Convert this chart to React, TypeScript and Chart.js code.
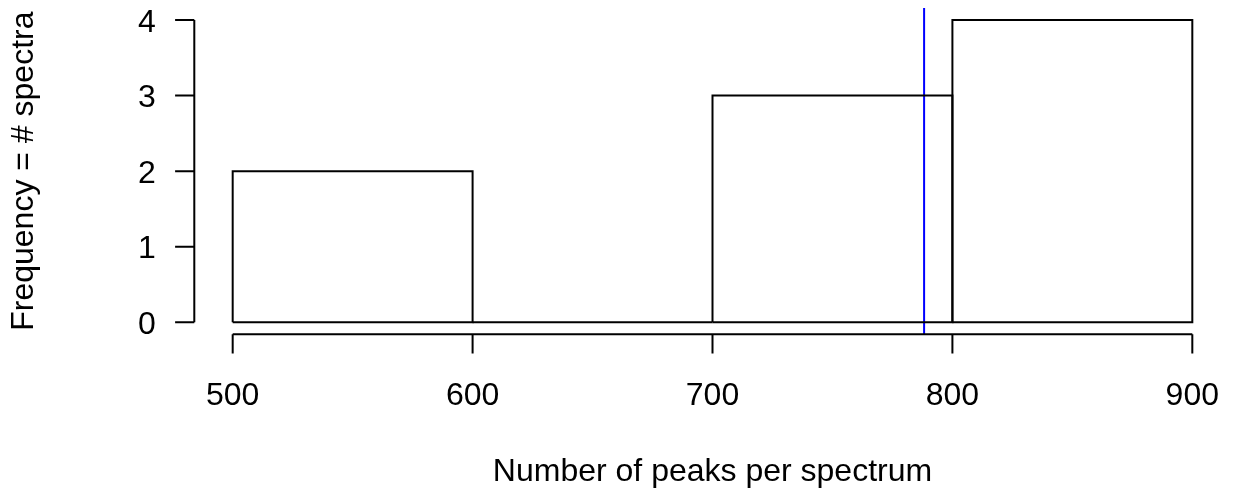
import React, { useEffect, useRef } from "react";
import { Chart, registerables } from "chart.js";

Chart.register(...registerables);

// ---- data ----
const binEdges = [500, 600, 700, 800, 900];
const binCounts = [2, 0, 3, 4];
const meanPeaks = 788.2;
const xTicks = [500, 600, 700, 800, 900];
const yTicks = [0, 1, 2, 3, 4];
const xTitle = "Number of peaks per spectrum";
const yTitle = "Frequency = # spectra";

// ---- style ----
const W = 1235;
const H = 489;
const FONT_SIZE = 32;
const FONT = `${FONT_SIZE}px "Liberation Sans", Arial, Helvetica, sans-serif`;
const LW = 2;
const TICK = 19.2;

const xMin = xTicks[0] - 0.04 * (xTicks[xTicks.length - 1] - xTicks[0]);
const xMax = xTicks[xTicks.length - 1] + 0.04 * (xTicks[xTicks.length - 1] - xTicks[0]);
const yMin = yTicks[0] - 0.04 * (yTicks[yTicks.length - 1] - yTicks[0]);
const yMax = yTicks[yTicks.length - 1] + 0.04 * (yTicks[yTicks.length - 1] - yTicks[0]);

const rAxesPlugin = {
  id: "rAxes",
  afterDraw(chart: any) {
    const ctx = chart.ctx as CanvasRenderingContext2D;
    const xs = chart.scales.x;
    const ys = chart.scales.y;
    const area = chart.chartArea;
    ctx.save();
    ctx.strokeStyle = "#000";
    ctx.fillStyle = "#000";
    ctx.lineWidth = LW;
    ctx.lineCap = "butt";

    // x axis
    const xa0 = xs.getPixelForValue(xTicks[0]);
    const xa1 = xs.getPixelForValue(xTicks[xTicks.length - 1]);
    const axY = area.bottom;
    ctx.beginPath();
    ctx.moveTo(xa0, axY);
    ctx.lineTo(xa1, axY);
    xTicks.forEach((t) => {
      const px = xs.getPixelForValue(t);
      ctx.moveTo(px, axY);
      ctx.lineTo(px, axY + TICK);
    });
    ctx.stroke();

    // y axis
    const ya0 = ys.getPixelForValue(yTicks[0]);
    const ya1 = ys.getPixelForValue(yTicks[yTicks.length - 1]);
    const axX = area.left;
    ctx.beginPath();
    ctx.moveTo(axX, ya0);
    ctx.lineTo(axX, ya1);
    yTicks.forEach((t) => {
      const py = ys.getPixelForValue(t);
      ctx.moveTo(axX, py);
      ctx.lineTo(axX - TICK, py);
    });
    ctx.stroke();

    ctx.font = FONT;
    const capHalf = 0.358 * FONT_SIZE;

    // x tick labels
    ctx.textAlign = "center";
    ctx.textBaseline = "alphabetic";
    xTicks.forEach((t) => {
      const px = xs.getPixelForValue(t);
      ctx.fillText(String(t), px, axY + 70.2);
    });

    // y tick labels
    ctx.textAlign = "right";
    yTicks.forEach((t) => {
      const py = ys.getPixelForValue(t);
      ctx.fillText(String(t), axX - 38.4, py + capHalf);
    });

    // x title
    ctx.textAlign = "center";
    ctx.fillText(xTitle, (area.left + area.right) / 2, 481);

    // y title
    ctx.save();
    ctx.translate(33, (area.top + area.bottom) / 2);
    ctx.rotate(-Math.PI / 2);
    ctx.textAlign = "center";
    ctx.fillText(yTitle, 0, 0);
    ctx.restore();

    ctx.restore();
  },
};

export default function App() {
  const ref = useRef<HTMLCanvasElement | null>(null);

  useEffect(() => {
    document.body.style.margin = "0";
    const canvas = ref.current;
    if (!canvas) return;

    const barSets = binCounts.map((c, i) => ({
      label: `bin${i}`,
      data: [
        { x: binEdges[i], y: 0 },
        { x: binEdges[i], y: c },
        { x: binEdges[i + 1], y: c },
        { x: binEdges[i + 1], y: 0 },
        { x: binEdges[i], y: 0 },
      ],
      borderColor: "#000",
      borderWidth: LW,
      pointRadius: 0,
      fill: false,
      tension: 0,
      borderJoinStyle: "miter" as const,
    }));

    const meanSet = {
      label: "mean",
      data: [
        { x: meanPeaks, y: yMin },
        { x: meanPeaks, y: yMax },
      ],
      borderColor: "#0000ff",
      borderWidth: LW,
      pointRadius: 0,
      fill: false,
      tension: 0,
    };

    const chart = new Chart(canvas, {
      type: "line",
      data: { datasets: [...barSets, meanSet] as any },
      options: {
        animation: false,
        responsive: false,
        maintainAspectRatio: false,
        layout: {
          padding: { left: 194.3, top: 8, right: W - 1230.7, bottom: H - 334.3 },
        },
        plugins: {
          legend: { display: false },
          tooltip: { enabled: false },
        },
        events: [],
        scales: {
          x: { type: "linear", min: xMin, max: xMax, display: false },
          y: { type: "linear", min: yMin, max: yMax, display: false },
        },
      },
      plugins: [rAxesPlugin],
    });

    return () => chart.destroy();
  }, []);

  return (
    <div style={{ position: "absolute", left: 0, top: 0, width: W, height: H, background: "#fff" }}>
      <canvas ref={ref} width={W} height={H} style={{ display: "block" }} />
    </div>
  );
}
